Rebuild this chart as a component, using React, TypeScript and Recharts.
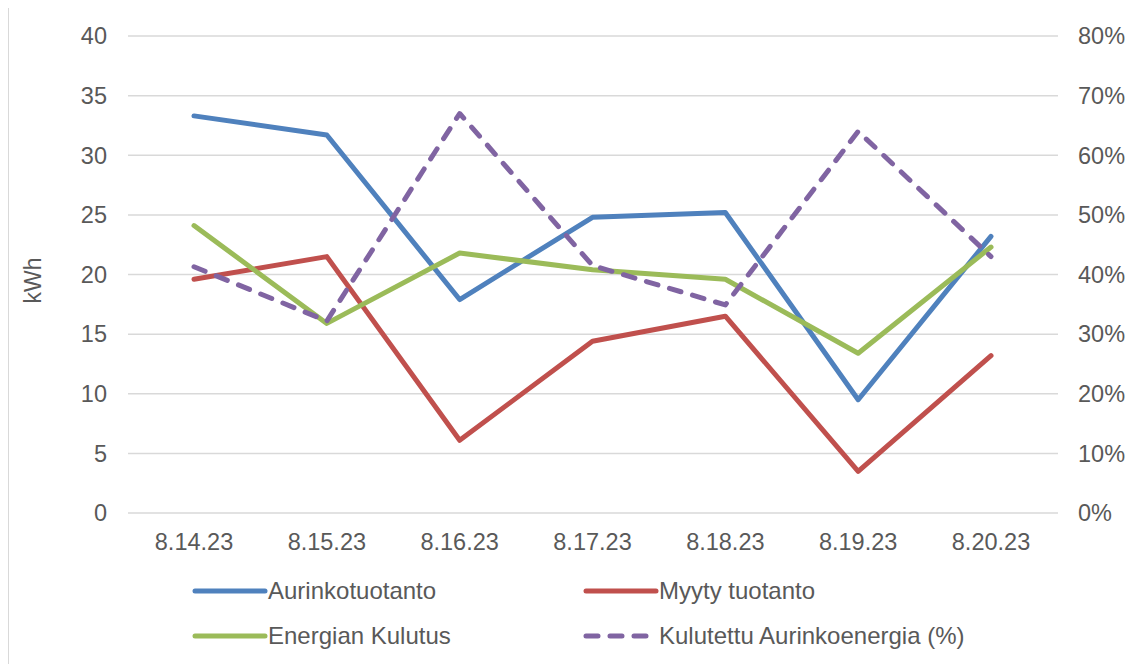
import React from 'react';
import { LineChart, Line, XAxis, YAxis, CartesianGrid, Label } from 'recharts';

const dates = ['8.14.23', '8.15.23', '8.16.23', '8.17.23', '8.18.23', '8.19.23', '8.20.23'];
const aurinkotuotanto = [33.3, 31.7, 17.9, 24.8, 25.2, 9.5, 23.2];
const myytyTuotanto = [19.6, 21.5, 6.1, 14.4, 16.5, 3.5, 13.2];
const energianKulutus = [24.1, 15.9, 21.8, 20.4, 19.6, 13.4, 22.3];
const kulutettuPct = [41.3, 32.2, 67.0, 41.5, 34.9, 64.0, 43.0];

const leftTicks = [0, 5, 10, 15, 20, 25, 30, 35, 40];
const rightTicks = [0, 10, 20, 30, 40, 50, 60, 70, 80];

const series = [
  { key: 'aurinko', name: 'Aurinkotuotanto', color: '#4F81BD', dashed: false, axis: 'left' },
  { key: 'myyty', name: 'Myyty tuotanto', color: '#C0504D', dashed: false, axis: 'left' },
  { key: 'kulutus', name: 'Energian Kulutus', color: '#9BBB59', dashed: false, axis: 'left' },
  { key: 'pct', name: 'Kulutettu Aurinkoenergia (%)', color: '#8064A2', dashed: true, axis: 'right' },
];

const data = dates.map((d, i) => ({
  date: d,
  aurinko: aurinkotuotanto[i],
  myyty: myytyTuotanto[i],
  kulutus: energianKulutus[i],
  pct: kulutettuPct[i],
}));

const FONT = '"Liberation Sans", Arial, sans-serif';
const TEXT = '#595959';
const tickStyle = { fill: TEXT, fontSize: 23.5, fontFamily: FONT };

function LegendItem({ s }: { s: typeof series[number] }) {
  return (
    <div style={{ display: 'flex', alignItems: 'center', width: 391 }}>
      <svg width={76} height={12} style={{ flexShrink: 0 }}>
        <line
          x1={3}
          y1={6}
          x2={s.dashed ? 66 : 73}
          y2={6}
          stroke={s.color}
          strokeWidth={5}
          strokeLinecap="round"
          strokeDasharray={s.dashed ? '12 12' : undefined}
        />
      </svg>
      <span style={{ marginLeft: 0, color: TEXT, fontSize: 24, fontFamily: FONT, whiteSpace: 'nowrap' }}>
        {s.name}
      </span>
    </div>
  );
}

export default function App() {
  return (
    <div
      style={{
        position: 'relative',
        width: 1140,
        height: 660,
        border: '1px solid #d9d9d9',
        background: '#fff',
        marginTop: -1,
      }}
    >
      <LineChart
        width={1131}
        height={581}
        data={data}
        margin={{ top: 28, right: 12, bottom: 36, left: 39 }}
      >
        <CartesianGrid vertical={false} stroke="#d9d9d9" strokeWidth={1.5} yAxisId="left" />
        <XAxis
          dataKey="date"
          axisLine={false}
          tickLine={false}
          tickSize={0}
          tickMargin={20}
          height={40}
          padding={{ left: 66, right: 67 }}
          tick={tickStyle}
          interval={0}
        />
        <YAxis
          yAxisId="left"
          domain={[0, 40]}
          ticks={leftTicks}
          axisLine={false}
          tickLine={false}
          tickSize={0}
          tickMargin={21}
          width={80}
          tick={tickStyle}
        >
          <Label
            content={(props: any) => {
              const vb = props.viewBox || {};
              const x = (vb.x || 0) - 15;
              const y = (vb.y || 0) + (vb.height || 0) / 2 + 6;
              return (
                <text
                  x={x}
                  y={y}
                  transform={`rotate(-90 ${x} ${y})`}
                  textAnchor="middle"
                  dominantBaseline="central"
                  fill={TEXT}
                  fontSize={23}
                  fontFamily={FONT}
                >
                  kWh
                </text>
              );
            }}
          />
        </YAxis>
        <YAxis
          yAxisId="right"
          orientation="right"
          domain={[0, 80]}
          ticks={rightTicks}
          tickFormatter={(v: number) => `${v}%`}
          axisLine={false}
          tickLine={false}
          tickSize={0}
          tickMargin={20}
          width={70}
          tick={tickStyle}
        />
        {series.map((s) => (
          <Line
            key={s.key}
            yAxisId={s.axis}
            type="linear"
            dataKey={s.key}
            name={s.name}
            stroke={s.color}
            strokeWidth={5}
            strokeDasharray={s.dashed ? '12 12' : undefined}
            strokeLinecap="round"
            strokeLinejoin="round"
            dot={false}
            activeDot={false}
            isAnimationActive={false}
          />
        ))}
      </LineChart>
      <div style={{ position: 'absolute', left: 183, top: 569, display: 'flex', flexWrap: 'wrap', width: 800, rowGap: 17 }}>
        {series.map((s) => (
          <LegendItem key={s.key} s={s} />
        ))}
      </div>
    </div>
  );
}
